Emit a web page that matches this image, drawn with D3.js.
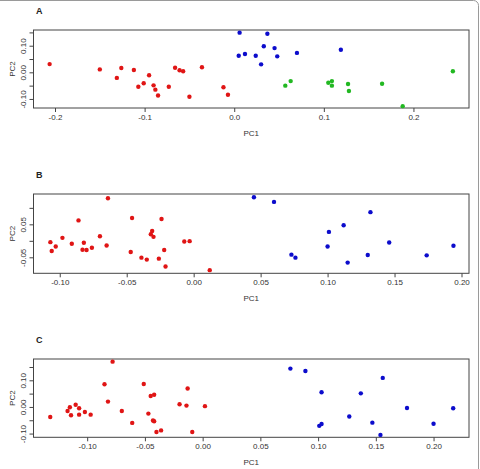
<!DOCTYPE html>
<html>
<head>
<meta charset="utf-8">
<script src="https://cdn.jsdelivr.net/npm/d3@7"></script>
<style>
  body { margin: 0; background: #fff; }
  svg { display: block; font-family: "Liberation Sans", Arial, sans-serif; }
</style>
</head>
<body>
<svg id="chart" width="480" height="469"></svg>
<script>
// PCA scores, [PC1, PC2]
var aRed = [[-0.206,0.031],[-0.150,0.011],[-0.126,0.016],[-0.131,-0.021],[-0.112,0.009],
  [-0.095,-0.011],[-0.107,-0.054],[-0.101,-0.041],[-0.090,-0.049],[-0.088,-0.065],
  [-0.085,-0.087],[-0.073,-0.054],[-0.066,0.017],[-0.061,0.008],[-0.057,0.004],
  [-0.050,-0.092],[-0.036,0.019],[-0.012,-0.056],[-0.007,-0.084]];
var aBlue = [[0.006,0.149],[0.005,0.062],[0.012,0.069],[0.024,0.062],[0.030,0.030],
  [0.033,0.098],[0.037,0.145],[0.045,0.091],[0.048,0.060],[0.070,0.073],[0.119,0.085]];
var aGreen = [[0.057,-0.050],[0.063,-0.033],[0.105,-0.039],[0.109,-0.033],[0.109,-0.050],
  [0.127,-0.044],[0.128,-0.070],[0.165,-0.043],[0.188,-0.127],[0.244,0.004]];

var bRed = [[-0.107,-0.004],[-0.106,-0.031],[-0.103,-0.017],[-0.098,0.009],[-0.091,-0.009],
  [-0.086,0.062],[-0.083,-0.027],[-0.082,-0.006],[-0.080,-0.028],[-0.076,-0.021],
  [-0.070,0.014],[-0.065,-0.014],[-0.064,0.129],[-0.047,-0.034],[-0.046,0.069],
  [-0.039,-0.051],[-0.035,-0.057],[-0.032,0.020],[-0.031,0.030],[-0.030,0.012],
  [-0.026,-0.054],[-0.024,0.066],[-0.022,-0.028],[-0.021,-0.078],[-0.007,-0.002],
  [-0.003,-0.001],[0.012,-0.089]];
var bBlue = [[0.045,0.132],[0.060,0.118],[0.073,-0.042],[0.076,-0.051],[0.100,-0.017],
  [0.101,0.027],[0.112,0.047],[0.115,-0.066],[0.130,-0.043],[0.132,0.087],
  [0.146,-0.005],[0.174,-0.044],[0.194,-0.015]];

var cRed = [[-0.132,-0.038],[-0.117,-0.015],[-0.115,-0.001],[-0.114,-0.031],[-0.110,0.008],
  [-0.107,-0.005],[-0.107,-0.029],[-0.102,-0.019],[-0.097,-0.029],[-0.085,0.085],
  [-0.082,0.020],[-0.078,0.170],[-0.070,-0.015],[-0.061,-0.060],[-0.051,0.086],
  [-0.047,-0.025],[-0.045,0.041],[-0.042,0.046],[-0.043,-0.051],[-0.042,-0.054],
  [-0.040,-0.094],[-0.036,-0.088],[-0.020,0.010],[-0.014,0.005],[-0.013,0.069],
  [-0.009,-0.094],[0.002,0.003]];
var cBlue = [[0.076,0.144],[0.089,0.135],[0.103,0.055],[0.137,0.051],[0.156,0.109],
  [0.127,-0.036],[0.147,-0.059],[0.177,-0.004],[0.217,-0.005],[0.200,-0.063],
  [0.101,-0.071],[0.103,-0.064],[0.154,-0.105]];

// tick values and which ones R kept a label for
var aXTicks = [-0.2,-0.1,0,0.1,0.2];
var aYTicks = [-0.10,-0.05,0,0.05,0.10,0.15];
var aYLabels = [-0.10,0,0.10];
var bXTicks = [-0.10,-0.05,0,0.05,0.10,0.15,0.20];
var bYTicks = [-0.05,0,0.05,0.10];
var bYLabels = [-0.05,0.05];
var cXTicks = [-0.10,-0.05,0,0.05,0.10,0.15,0.20];
var cYTicks = [-0.10,-0.05,0,0.05,0.10,0.15];
var cYLabels = [-0.10,0,0.10];

var COLORS = { red: "#e01515", blue: "#0c0ccc", green: "#22b822" };
var FONT = 8;

var svg = d3.select("#chart");

// outer rounded frame
svg.append("rect")
  .attr("x", -6).attr("y", 0.5)
  .attr("width", 484.5).attr("height", 480)
  .attr("rx", 5)
  .attr("fill", "none")
  .attr("stroke", "#9a9a9a")
  .attr("stroke-width", 1);

var LEFT = 33.5, RIGHT = 469;

var panels = [
  { title: "A", top: 30, bottom: 108, xDom: [-0.224, 0.262], yDom: [-0.134, 0.159],
    xTicks: aXTicks, xFmt: d3.format(".1f"), yTicks: aYTicks, yLabels: aYLabels,
    series: [[aRed, "red"], [aBlue, "blue"], [aGreen, "green"]] },
  { title: "B", top: 194, bottom: 273.3, xDom: [-0.1196, 0.2056], yDom: [-0.0985, 0.142],
    xTicks: bXTicks, xFmt: d3.format(".2f"), yTicks: bYTicks, yLabels: bYLabels,
    series: [[bRed, "red"], [bBlue, "blue"]] },
  { title: "C", top: 359, bottom: 437.3, xDom: [-0.1465, 0.2307], yDom: [-0.114, 0.180],
    xTicks: cXTicks, xFmt: d3.format(".2f"), yTicks: cYTicks, yLabels: cYLabels,
    series: [[cRed, "red"], [cBlue, "blue"]] }
];

function minusFmt(fmt) {
  // R prints a plain hyphen-minus
  return function(d) { return fmt(d).replace("\u2212", "-"); };
}

panels.forEach(function(p) {
  var x = d3.scaleLinear().domain(p.xDom).range([LEFT, RIGHT]);
  var y = d3.scaleLinear().domain(p.yDom).range([p.bottom, p.top]);
  var g = svg.append("g");

  // panel letter
  g.append("text")
    .attr("x", 36).attr("y", p.top - 16)
    .attr("font-size", 9).attr("font-weight", "bold")
    .attr("fill", "#222")
    .text(p.title);

  // x axis
  var xAxis = d3.axisBottom(x).tickValues(p.xTicks).tickSize(4).tickPadding(2)
    .tickFormat(minusFmt(p.xFmt));
  var gx = g.append("g").attr("transform", "translate(0," + p.bottom + ")").call(xAxis);
  gx.select(".domain").remove();
  gx.selectAll("line").attr("stroke", "#444");
  gx.selectAll("text").attr("font-size", FONT).attr("fill", "#333")
    .attr("font-family", "Liberation Sans, Arial, sans-serif");

  // y axis, labels parallel to the axis
  var yAxis = d3.axisLeft(y).tickValues(p.yTicks).tickSize(4)
    .tickFormat(function(d) {
      var keep = p.yLabels.some(function(v) { return Math.abs(v - d) < 1e-9; });
      return keep ? minusFmt(d3.format(".2f"))(d) : "";
    });
  var gy = g.append("g").attr("transform", "translate(" + LEFT + ",0)").call(yAxis);
  gy.select(".domain").remove();
  gy.selectAll("line").attr("stroke", "#444");
  gy.selectAll("text")
    .attr("font-size", FONT).attr("fill", "#333")
    .attr("font-family", "Liberation Sans, Arial, sans-serif")
    .attr("x", null).attr("dy", null)
    .attr("text-anchor", "middle")
    .attr("transform", "translate(-10,0) rotate(-90)")
    .attr("dominant-baseline", "central");

  // box
  g.append("rect")
    .attr("x", LEFT).attr("y", p.top)
    .attr("width", RIGHT - LEFT).attr("height", p.bottom - p.top)
    .attr("fill", "none").attr("stroke", "#444").attr("stroke-width", 1);

  // axis titles
  g.append("text")
    .attr("x", (LEFT + RIGHT) / 2).attr("y", p.bottom + 28)
    .attr("text-anchor", "middle")
    .attr("font-size", FONT).attr("fill", "#333")
    .text("PC1");
  g.append("text")
    .attr("transform", "translate(12," + ((p.top + p.bottom) / 2) + ") rotate(-90)")
    .attr("text-anchor", "middle").attr("dominant-baseline", "central")
    .attr("font-size", FONT).attr("fill", "#333")
    .text("PC2");

  // points
  p.series.forEach(function(s) {
    g.append("g").selectAll("circle")
      .data(s[0])
      .enter()
      .append("circle")
      .attr("cx", function(d) { return x(d[0]); })
      .attr("cy", function(d) { return y(d[1]); })
      .attr("r", 2.2)
      .attr("fill", COLORS[s[1]]);
  });
});
</script>
</body>
</html>
